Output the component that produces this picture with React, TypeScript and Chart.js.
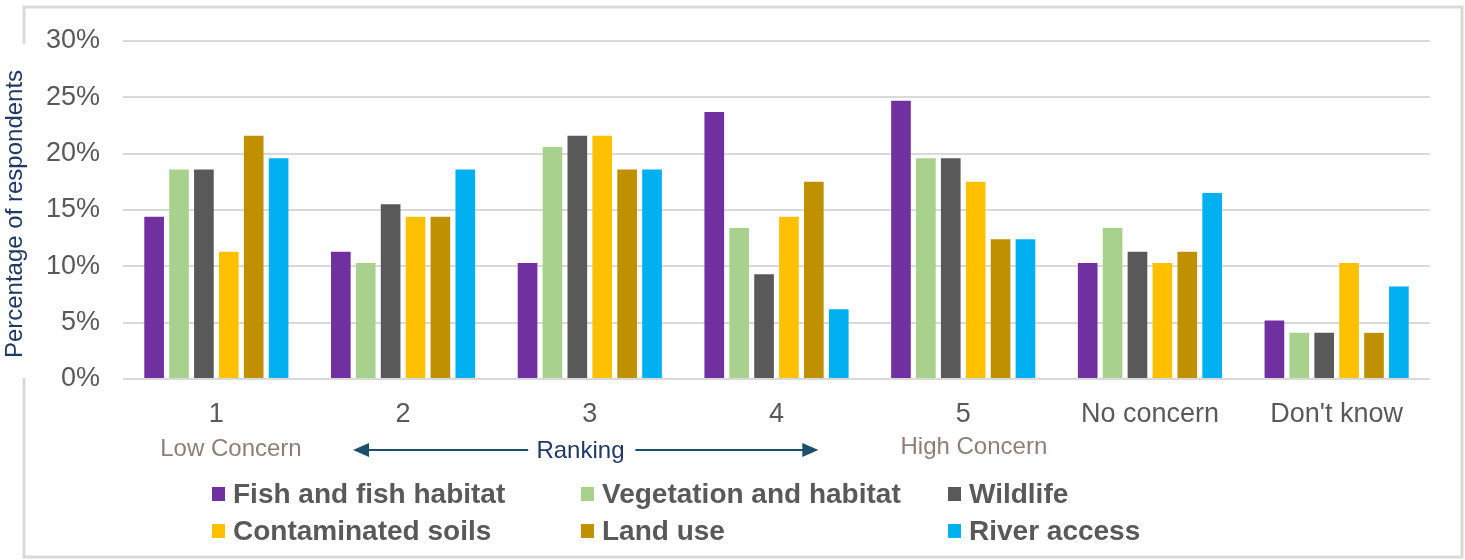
import React, { useEffect, useRef } from "react";
import { Chart, registerables } from "chart.js";

Chart.register(...registerables);

const categories = ["1", "2", "3", "4", "5", "No concern", "Don't know"];

const fishHabitat = [14.4, 11.3, 10.3, 23.7, 24.7, 10.3, 5.2];
const vegetationHabitat = [18.6, 10.3, 20.6, 13.4, 19.6, 13.4, 4.1];
const wildlife = [18.6, 15.5, 21.6, 9.3, 19.6, 11.3, 4.1];
const contaminatedSoils = [11.3, 14.4, 21.6, 14.4, 17.5, 10.3, 10.3];
const landUse = [21.6, 14.4, 18.6, 17.5, 12.4, 11.3, 4.1];
const riverAccess = [19.6, 18.6, 18.6, 6.2, 12.4, 16.5, 8.2];

const seriesNames = [
  "Fish and fish habitat",
  "Vegetation and habitat",
  "Wildlife",
  "Contaminated soils",
  "Land use",
  "River access",
];
const seriesColors = ["#7030a0", "#a9d18e", "#595959", "#ffc000", "#bf9000", "#00b0f0"];
const seriesValues = [fishHabitat, vegetationHabitat, wildlife, contaminatedSoils, landUse, riverAccess];

const yTicks = [0, 5, 10, 15, 20, 25, 30];

const axisTitle = "Percentage of respondents";
const lowLabel = "Low Concern";
const highLabel = "High Concern";
const rankingLabel = "Ranking";

const FONT = "'Liberation Sans', Arial, sans-serif";

const decorations = {
  id: "decorations",
  beforeDraw(chart: any) {
    const ctx = chart.ctx;
    ctx.save();
    ctx.fillStyle = "#ffffff";
    ctx.fillRect(0, 0, chart.width, chart.height);
    // outer frame
    ctx.strokeStyle = "#d9d9d9";
    ctx.lineWidth = 3;
    ctx.strokeRect(24, 7, 1438, 550);
    // clear frame behind the axis title
    ctx.fillStyle = "#ffffff";
    ctx.fillRect(20, 44, 10, 334);
    ctx.restore();
  },
  afterDraw(chart: any) {
    const ctx = chart.ctx;
    const area = chart.chartArea;
    const w = area.right - area.left;
    const px = (f: number) => area.left + f * w;
    ctx.save();

    // rotated axis title
    ctx.translate(15, 214);
    ctx.rotate(-Math.PI / 2);
    ctx.font = `24px ${FONT}`;
    ctx.fillStyle = "#1f3864";
    ctx.textAlign = "center";
    ctx.textBaseline = "middle";
    ctx.fillText(axisTitle, 0, 0);
    ctx.setTransform(1, 0, 0, 1, 0, 0);

    // ranking annotation
    ctx.font = `24px ${FONT}`;
    ctx.textBaseline = "middle";
    ctx.textAlign = "center";
    ctx.fillStyle = "#8c7f79";
    ctx.fillText(lowLabel, px(0.0826), 449);
    ctx.fillText(highLabel, px(0.651), 447);
    ctx.fillStyle = "#1f3864";
    ctx.fillText(rankingLabel, px(0.350), 451);

    const ay = 450;
    const x0 = px(0.176);
    const x1 = px(0.532);
    const g0 = px(0.310);
    const g1 = px(0.392);
    ctx.strokeStyle = "#1b4f6b";
    ctx.fillStyle = "#1b4f6b";
    ctx.lineWidth = 2;
    ctx.beginPath();
    ctx.moveTo(x0 + 14, ay);
    ctx.lineTo(g0, ay);
    ctx.moveTo(g1, ay);
    ctx.lineTo(x1 - 14, ay);
    ctx.stroke();
    ctx.beginPath();
    ctx.moveTo(x0, ay);
    ctx.lineTo(x0 + 16, ay - 7);
    ctx.lineTo(x0 + 16, ay + 7);
    ctx.closePath();
    ctx.fill();
    ctx.beginPath();
    ctx.moveTo(x1, ay);
    ctx.lineTo(x1 - 16, ay - 7);
    ctx.lineTo(x1 - 16, ay + 7);
    ctx.closePath();
    ctx.fill();

    // legend in two rows of three
    const cols = [212, 581, 948];
    const rows = [494, 531];
    ctx.font = `bold 28px ${FONT}`;
    ctx.textAlign = "left";
    ctx.textBaseline = "middle";
    chart.data.datasets.forEach((ds: any, i: number) => {
      const cx = cols[i % 3];
      const cy = rows[Math.floor(i / 3)];
      ctx.fillStyle = ds.backgroundColor;
      ctx.fillRect(cx, cy - 7, 13, 14);
      ctx.fillStyle = "#595959";
      ctx.fillText(ds.label, cx + 21, cy + 1);
    });
    ctx.restore();
  },
};

export default function App() {
  const canvasRef = useRef<HTMLCanvasElement | null>(null);

  useEffect(() => {
    if (!canvasRef.current) return;
    const chart = new Chart(canvasRef.current, {
      type: "bar",
      data: {
        labels: categories,
        datasets: seriesNames.map((name, i) => ({
          label: name,
          data: seriesValues[i],
          backgroundColor: seriesColors[i],
          borderWidth: 0,
          categoryPercentage: 0.8,
          barPercentage: 0.79,
        })),
      },
      options: {
        animation: false,
        responsive: false,
        maintainAspectRatio: false,
        layout: { padding: { left: 0, top: 41, right: 35, bottom: 131 } },
        plugins: {
          legend: { display: false },
          tooltip: { enabled: false },
        },
        scales: {
          x: {
            grid: { display: false },
            border: { display: false },
            ticks: {
              color: "#595959",
              font: { family: FONT, size: 27 },
              padding: 11,
              maxRotation: 0,
              autoSkip: false,
            },
            afterFit: (s: any) => {
              s.height = 50;
            },
          },
          y: {
            min: 0,
            max: 30,
            afterBuildTicks: (s: any) => {
              s.ticks = yTicks.map((v) => ({ value: v }));
            },
            grid: { color: "#d9d9d9", lineWidth: 2, drawTicks: false },
            border: { display: false },
            ticks: {
              color: "#595959",
              font: { family: FONT, size: 27 },
              padding: 23,
              callback: (v: any) => `${v}%`,
            },
            afterFit: (s: any) => {
              s.width = 123;
            },
          },
        },
      },
      plugins: [decorations],
    });
    return () => chart.destroy();
  }, []);

  return (
    <div style={{ position: "absolute", left: 0, top: 0, width: 1465, height: 560 }}>
      <canvas ref={canvasRef} width={1465} height={560} style={{ display: "block" }} />
    </div>
  );
}
